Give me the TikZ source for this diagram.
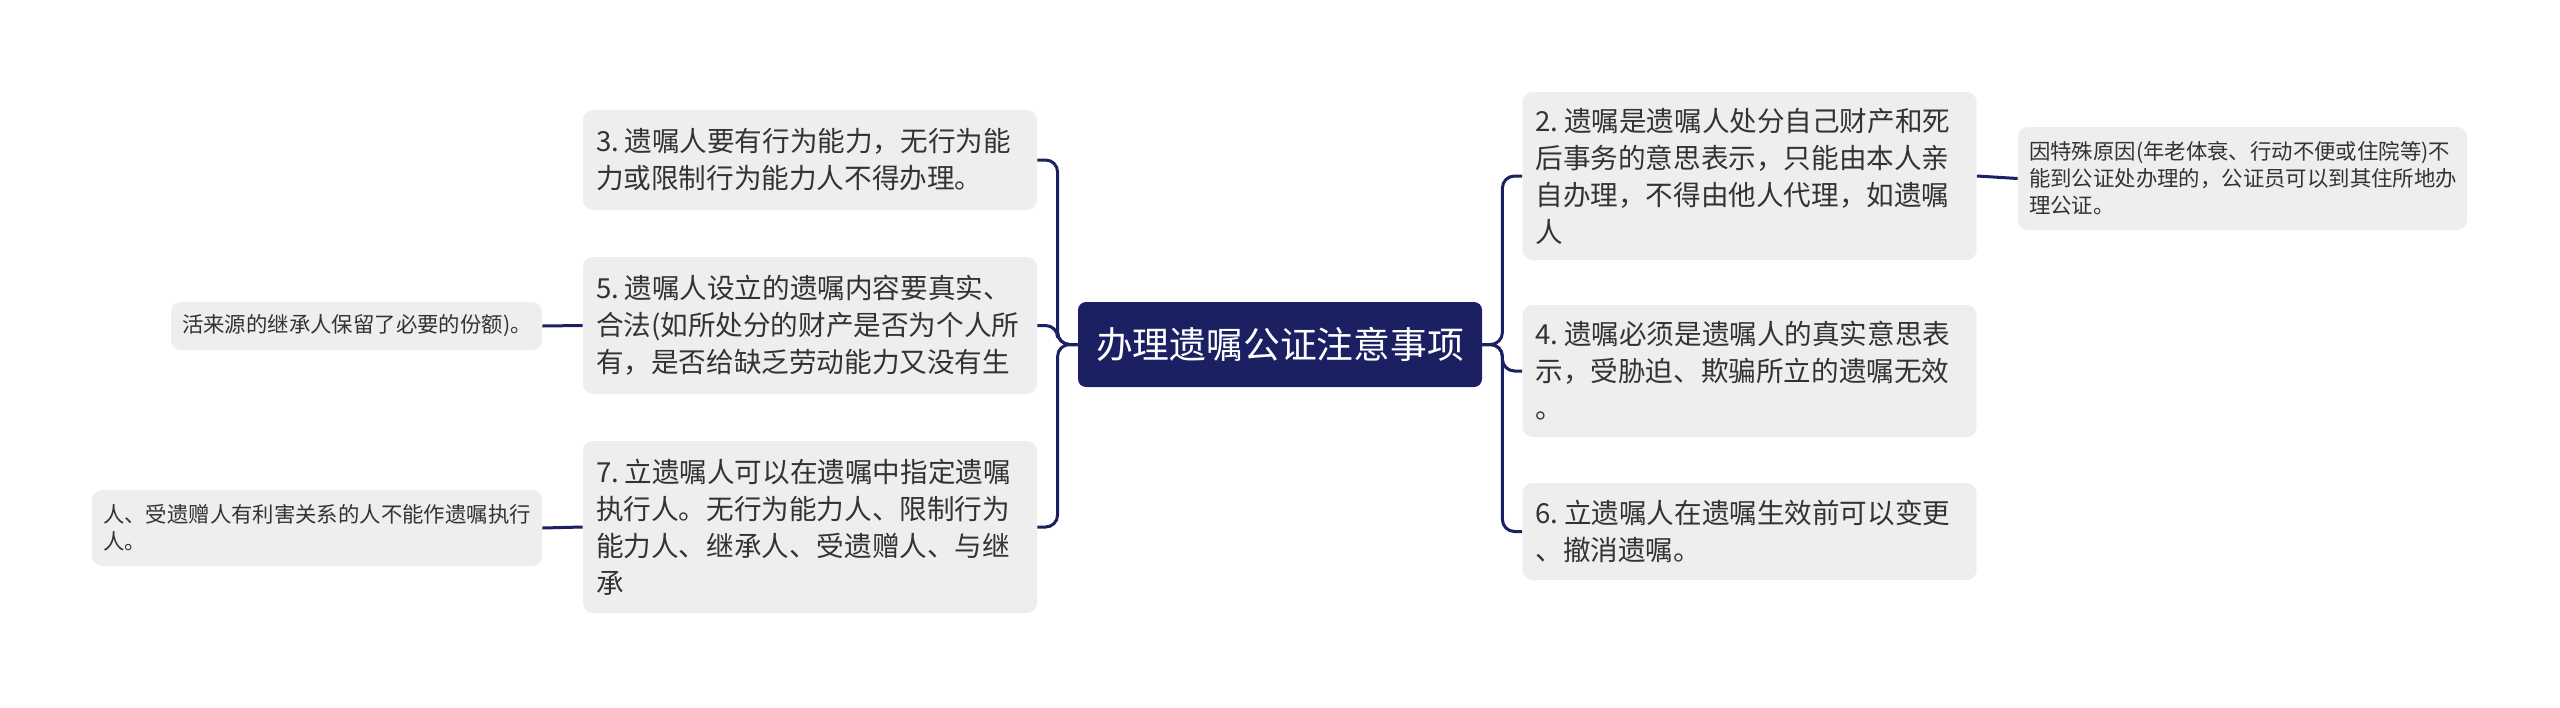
\documentclass[tikz,border=0pt]{standalone}
\usepackage{fontspec}
\usepackage{tikz}
\setmainfont{Noto Sans CJK SC}
\definecolor{navy}{RGB}{27,32,98}
\definecolor{boxgray}{RGB}{238,238,238}
\definecolor{txt}{RGB}{51,51,51}

\begin{document}
\begin{tikzpicture}[x=0.5pt,y=-0.5pt]
        \tikzset{Root/.style = {fill = navy, text = white, rounded corners = 4pt,
            minimum width = 202pt, minimum height = 42.5pt,
            font = {\fontsize{18.4pt}{22pt}\selectfont}},
          Topic/.style = {fill = boxgray, text = txt, rounded corners = 5pt,
            align = left, text width = 214pt, inner xsep = 6.5pt, inner ysep = 0pt,
            font = {\fontsize{13.8pt}{18.5pt}\selectfont}},
          Note/.style = {fill = boxgray, text = txt, rounded corners = 5pt,
            align = left, inner xsep = 5.5pt, inner ysep = 0pt,
            font = {\fontsize{10.7pt}{13.5pt}\selectfont}},
          Link/.style = {draw = navy, line width = 1.5pt, rounded corners = 6pt}}
        \useasboundingbox (0,0) rectangle (2560,707);
        \node[Root] (Main) at (1280,344.5) {办理遗嘱公证注意事项};
        % left side
        \node[Topic, minimum height = 50pt] (T3) at (810,160)
          {3.\hspace{.2em}遗嘱人要有行为能力，无行为能\\力或限制行为能力人不得办理。};
        \node[Topic, minimum height = 68.5pt] (T5) at (810,325.5)
          {5.\hspace{.2em}遗嘱人设立的遗嘱内容要真实、\\合法(如所处分的财产是否为个人所\\有，是否给缺乏劳动能力又没有生};
        \node[Topic, minimum height = 86pt] (T7) at (810,527)
          {7.\hspace{.2em}立遗嘱人可以在遗嘱中指定遗嘱\\执行人。无行为能力人、限制行为\\能力人、继承人、受遗赠人、与继\\承};
        \node[Note, text width = 174.5pt, minimum height = 24pt] (N5) at (356.5,326)
          {活来源的继承人保留了必要的份额)。};
        \node[Note, text width = 214pt, minimum height = 38pt] (N7) at (317,528)
          {人、受遗赠人有利害关系的人不能作遗嘱执行\\人。};
        % right side
        \node[Topic, minimum height = 84pt] (T2) at (1749.5,176)
          {2.\hspace{.2em}遗嘱是遗嘱人处分自己财产和死\\后事务的意思表示，只能由本人亲\\自办理，不得由他人代理，如遗嘱\\人};
        \node[Topic, minimum height = 66pt] (T4) at (1749.5,371)
          {4.\hspace{.2em}遗嘱必须是遗嘱人的真实意思表\\示，受胁迫、欺骗所立的遗嘱无效\\。};
        \node[Topic, minimum height = 48.5pt] (T6) at (1749.5,531.5)
          {6.\hspace{.2em}立遗嘱人在遗嘱生效前可以变更\\、撤消遗嘱。};
        \node[Note, text width = 213.5pt, minimum height = 51.5pt] (N2) at (2242.5,178.5)
          {因特殊原因(年老体衰、行动不便或住院等)不\\能到公证处办理的，公证员可以到其住所地办\\理公证。};
        \draw[Link] (Main.west) -- ++(-20,0) |- (T3.east);
        \draw[Link] (Main.west) -- ++(-20,0) |- (T5.east);
        \draw[Link] (Main.west) -- ++(-20,0) |- (T7.east);
        \draw[Link] (Main.east) -- ++(20,0) |- (T2.west);
        \draw[Link] (Main.east) -- ++(20,0) |- (T4.west);
        \draw[Link] (Main.east) -- ++(20,0) |- (T6.west);
        \draw[Link] (T5.west) -- (N5.east);
        \draw[Link] (T7.west) -- (N7.east);
        \draw[Link] (T2.east) -- (N2.west);
    \end{tikzpicture}
\end{document}
